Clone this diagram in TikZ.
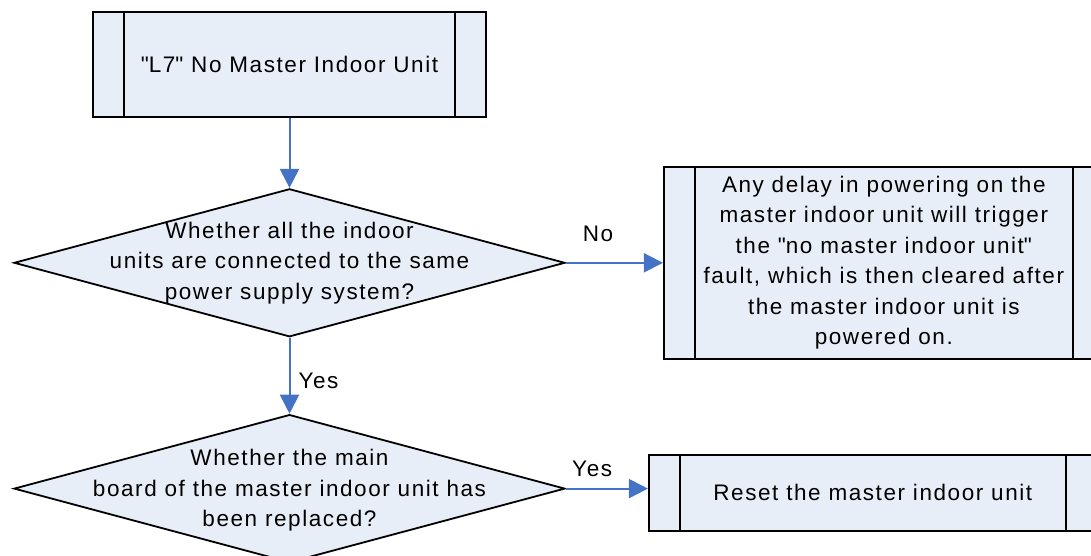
\documentclass[tikz,border=0pt]{standalone}
\usepackage{fontspec}
\setmainfont[LetterSpace=7]{Liberation Sans}
\usepackage{xcolor}
\usepackage{tikz}
\usetikzlibrary{positioning, arrows.meta, shapes.geometric}

\definecolor{procfill}{RGB}{232,238,247}
\definecolor{linkblue}{RGB}{68,114,196}
\newcommand{\flowfont}{\fontsize{22.5pt}{30.5pt}\selectfont}

\begin{document}
\begin{tikzpicture}[
    x=1pt, y=1pt,
    proc/.style={draw=black, line width=1.8pt, fill=procfill,
                 align=center, font=\flowfont, inner sep=0pt,
                 path picture={
                   \draw[line width=1.8pt] ([xshift=31pt]path picture bounding box.north west)
                     -- ([xshift=31pt]path picture bounding box.south west);
                   \draw[line width=1.8pt] ([xshift=-31pt]path picture bounding box.north east)
                     -- ([xshift=-31pt]path picture bounding box.south east);}},
    decision/.style={diamond, draw=black, line width=1.8pt, fill=procfill,
                     inner sep=0pt, minimum width=551pt, minimum height=148pt},
    dtext/.style={align=center, font=\flowfont, inner sep=0pt},
    arr/.style={-{Triangle[length=19pt, width=19pt]}, draw=linkblue, line width=2pt},
    lbl/.style={font=\flowfont, inner sep=2pt},
]
\useasboundingbox (0,0) rectangle (1091,-556);

% Main column
\node[proc, minimum width=393pt, minimum height=105pt] (alarm) at (289.5,-64.5)
  {\textquotedbl L7\textquotedbl{} No Master Indoor Unit};
\node[decision, below=70pt of alarm] (check1) {};
\node[dtext] (check1txt) at (check1)
  {Whether all the indoor\\units are connected to the same\\power supply system?};
\node[decision, below=76pt of check1] (check2) {};
\node[dtext, yshift=-2pt] (check2txt) at (check2)
  {Whether the main\\board of the master indoor unit has\\been replaced?};

% Outcome boxes
\node[proc, right=97pt of check1, minimum width=440pt, minimum height=192pt] (delay)
  {Any delay in powering on the\\master indoor unit will trigger\\the \textquotedbl no master indoor unit\textquotedbl\\fault, which is then cleared after\\the master indoor unit is\\powered on.};
\node[proc, right=82pt of check2, yshift=-4pt, minimum width=448pt, minimum height=76pt] (reset)
  {Reset the master indoor unit};

% Arrows
\draw[arr] (alarm) -- (check1);
\draw[arr] (check1) -- node[lbl, right=6pt, pos=0.57] (yes1) {Yes} (check2);
\draw[arr] (check1) -- node[lbl, above=18pt, pos=0.33] (no1) {No} (delay);
\draw[arr] (check2.east) -- node[lbl, above=9pt, pos=0.32] (yes2) {Yes} (check2.east -| reset.west);

\end{tikzpicture}
\end{document}
